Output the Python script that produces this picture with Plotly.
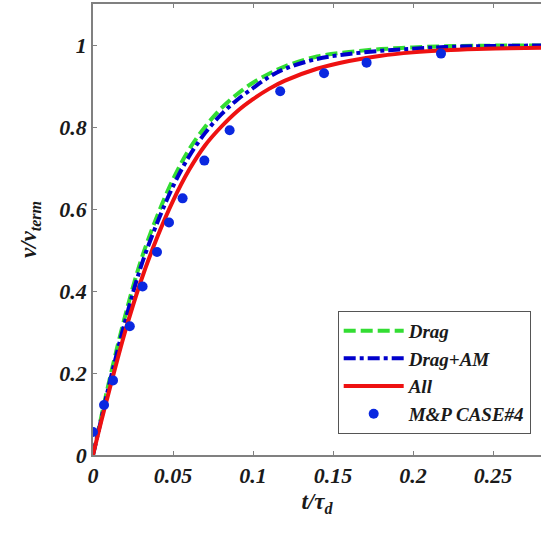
import plotly.graph_objects as go

# time grid for model curves (t / tau_d)
t_model = [0, 0.005, 0.01, 0.02, 0.03, 0.04, 0.05, 0.06, 0.07, 0.08, 0.09, 0.10,
           0.11, 0.12, 0.14, 0.16, 0.18, 0.20, 0.22, 0.24, 0.26, 0.28]
v_drag = [0, 0.09, 0.178, 0.338, 0.475, 0.582, 0.672, 0.745, 0.80, 0.845, 0.88, 0.908,
          0.93, 0.948, 0.972, 0.983, 0.99, 0.994, 0.997, 0.998, 0.999, 0.999]
v_drag_am = [0, 0.085, 0.17, 0.325, 0.46, 0.565, 0.655, 0.728, 0.785, 0.83, 0.866, 0.895,
             0.922, 0.942, 0.966, 0.978, 0.986, 0.991, 0.995, 0.997, 0.998, 0.999]
v_all = [0, 0.08, 0.155, 0.30, 0.425, 0.53, 0.62, 0.695, 0.755, 0.80, 0.838, 0.868,
         0.893, 0.913, 0.942, 0.961, 0.974, 0.982, 0.987, 0.990, 0.992, 0.993]

# experimental points (M&P CASE#4)
t_exp = [0, 0.0069, 0.0125, 0.023, 0.031, 0.040, 0.0475, 0.056, 0.0696, 0.0854,
         0.117, 0.1444, 0.171, 0.2175]
v_exp = [0.056, 0.122, 0.182, 0.314, 0.411, 0.495, 0.567, 0.626, 0.718, 0.792,
         0.887, 0.931, 0.957, 0.979]

x_tickvals = [0, 0.05, 0.1, 0.15, 0.2, 0.25]
x_ticktext = ["0", "0.05", "0.1", "0.15", "0.2", "0.25"]
y_tickvals = [0, 0.2, 0.4, 0.6, 0.8, 1.0]
y_ticktext = ["0", "0.2", "0.4", "0.6", "0.8", "1"]

FONT = "Liberation Serif"

fig = go.Figure()
fig.add_trace(go.Scatter(x=t_model, y=v_drag, mode="lines", name="<b><i>Drag</i></b>",
                         line=dict(color="#33dd33", width=4, dash="12px,5px", shape="spline")))
fig.add_trace(go.Scatter(x=t_model, y=v_drag_am, mode="lines", name="<b><i>Drag+AM</i></b>",
                         line=dict(color="#0000cc", width=4, dash="12px,4px,4px,4px", shape="spline")))
fig.add_trace(go.Scatter(x=t_model, y=v_all, mode="lines", name="<b><i>All</i></b>",
                         line=dict(color="#ee1111", width=4, shape="spline")))
fig.add_trace(go.Scatter(x=t_exp, y=v_exp, mode="markers", name="<b><i>M&amp;P CASE#4</i></b>",
                         marker=dict(color="#0a28e0", size=10)))

axis_common = dict(
    showgrid=False, zeroline=False, showline=True, linecolor="#808080", linewidth=1.5,
    ticks="inside", ticklen=4, tickcolor="#808080", tickwidth=1,
    tickfont=dict(family=FONT, size=22, color="#1a1a1a", weight="bold", style="italic"),
)

fig.update_layout(
    width=541, height=537,
    margin=dict(l=93, r=0, t=4, b=82),
    paper_bgcolor="white", plot_bgcolor="white",
    showlegend=True,
    legend=dict(
        x=0.977, y=0.047, xanchor="right", yanchor="bottom",
        bgcolor="white", bordercolor="#555555", borderwidth=1,
        font=dict(family=FONT, size=19, color="#1a1a1a"),
        tracegroupgap=0, itemwidth=60,
    ),
    xaxis=dict(range=[0, 0.28], tickvals=x_tickvals, ticktext=x_ticktext, mirror="allticks",
               title=dict(text="<b><i>t/τ<sub>d</sub></i></b>",
                          font=dict(family=FONT, size=23, color="#1a1a1a"), standoff=6),
               **axis_common),
    yaxis=dict(range=[0, 1.1], tickvals=y_tickvals, ticktext=y_ticktext, mirror=False,
               title=dict(text="<b><i>v/v<sub>term</sub></i></b>",
                          font=dict(family=FONT, size=23, color="#1a1a1a"), standoff=16),
               **axis_common),
)

fig.write_html("out.html")
